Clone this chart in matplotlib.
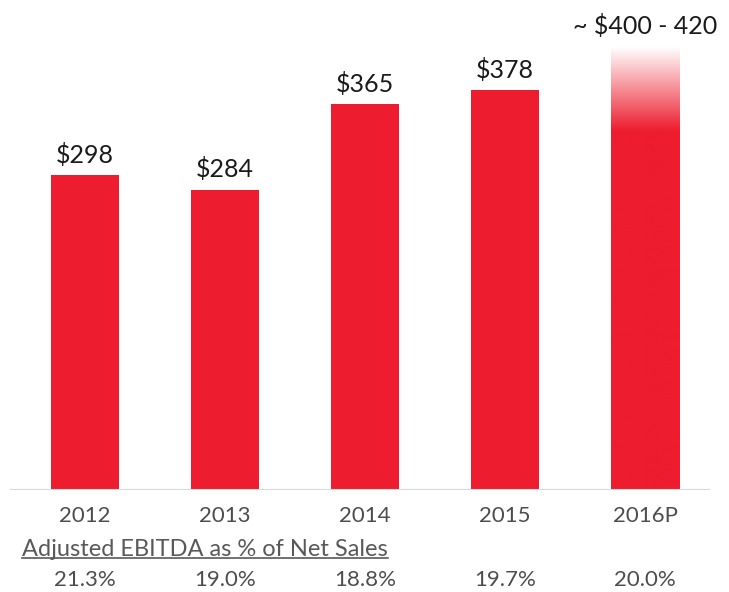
import numpy as np
import matplotlib
matplotlib.use("Agg")
import matplotlib.pyplot as plt
from matplotlib.colors import LinearSegmentedColormap
from matplotlib.patches import Rectangle
from matplotlib.lines import Line2D

plt.rcParams['font.family'] = ['Lato', 'DejaVu Sans']

years = ["2012", "2013", "2014", "2015", "2016P"]
ebitda = [298, 284, 365, 378, 420]
value_labels = ["$298", "$284", "$365", "$378", "~ $400 - 420"]
margin_pct = ["21.3%", "19.0%", "18.8%", "19.7%", "20.0%"]
fade_start = 340  # where the projected bar begins to fade

RED = "#ED1C2E"

fig = plt.figure(figsize=(7.29, 5.92), dpi=100)
ax = fig.add_axes([10 / 729, 1 - 490 / 592, 700 / 729, 490 / 592])

x = np.arange(len(years))
width = 0.49

# solid bars for actuals
ax.bar(x[:-1], ebitda[:-1], width=width, color=RED, zorder=2)

# projected bar with a gradient fading to white at the top
xp = x[-1]
rect = Rectangle((xp - width / 2, 0), width, ebitda[-1], facecolor="none",
                 edgecolor="none")
ax.add_patch(rect)
vals = np.clip((np.linspace(0, ebitda[-1], 256) - fade_start) /
               (ebitda[-1] - fade_start), 0, 1).reshape(-1, 1)
img = ax.imshow(vals, cmap=LinearSegmentedColormap.from_list("f", [RED, "#FFFFFF"]),
                extent=(xp - width / 2, xp + width / 2, 0, ebitda[-1]),
                origin="lower", aspect="auto", zorder=2, vmin=0, vmax=1)
img.set_clip_path(rect)

for xi, v, lab in zip(x, ebitda, value_labels):
    ax.annotate(lab, (xi, v), xytext=(0, 6), textcoords="offset points",
                ha="center", va="bottom", fontsize=18, color="#1a1a1a")

ax.set_xlim(-0.536, 4.464)
ax.set_ylim(0, 463.6)
ax.axhline(0, color="#d9d9d9", lw=1.5, zorder=3)
for s in ax.spines.values():
    s.set_visible(False)
ax.set_xticks([])
ax.set_yticks([])

# year labels and margin row below the axis
for xi, yr, pct in zip(x, years, margin_pct):
    fx = ax.transData.transform((xi, 0))[0] / fig.bbox.width
    fig.text(fx, 1 - 516 / 592, yr, ha="center", va="center",
             fontsize=16, color="#4d4d4d")
    fig.text(fx, 1 - 580 / 592, pct, ha="center", va="center",
             fontsize=16, color="#4d4d4d")

t = fig.text(22 / 729, 1 - 549 / 592, "Adjusted EBITDA as % of Net Sales",
             ha="left", va="center", fontsize=17, color="#595959")
fig.canvas.draw()
bb = t.get_window_extent().transformed(fig.transFigure.inverted())
fig.add_artist(Line2D([bb.x0, bb.x1], [bb.y0 + 0.002, bb.y0 + 0.002],
                      color="#595959", lw=1.2, transform=fig.transFigure))

fig.savefig("out.png", dpi=100)
